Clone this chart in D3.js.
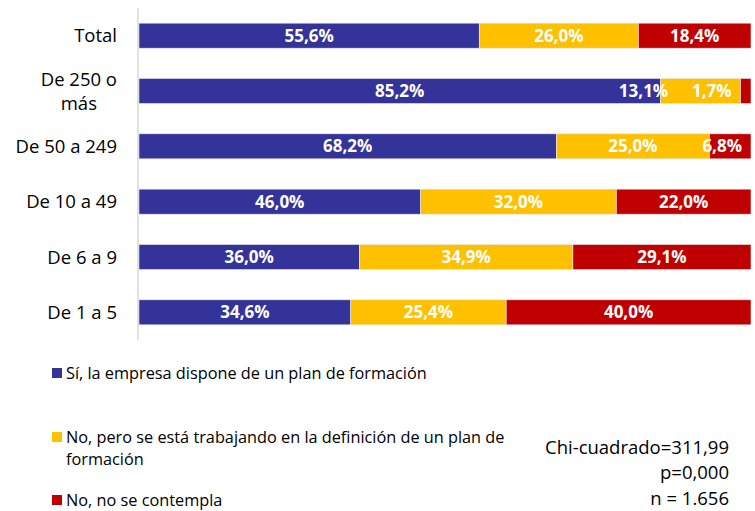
<!DOCTYPE html>
<html>
<head>
<meta charset="utf-8">
<script src="https://cdn.jsdelivr.net/npm/d3@7"></script>
<style>
  body { margin: 0; background: #fff; }
  svg text { font-family: "Open Sans", Lato, sans-serif; }
</style>
</head>
<body>
<svg width="755" height="511"></svg>
<script>
// categories top to bottom
var categories = ["Total", "De 250 o más", "De 50 a 249", "De 10 a 49", "De 6 a 9", "De 1 a 5"];
var seriesNames = [
  "Sí, la empresa dispone de un plan de formación",
  "No, pero se está trabajando en la definición de un plan de formación",
  "No, no se contempla"
];
var siValues = [55.6, 85.2, 68.2, 46.0, 36.0, 34.6];
var trabajandoValues = [26.0, 13.1, 25.0, 32.0, 34.9, 25.4];
var noValues = [18.4, 1.7, 6.8, 22.0, 29.1, 40.0];
var statsLines = ["Chi-cuadrado=311,99", "p=0,000", "n = 1.656"];

var colors = ["#333399", "#FFC000", "#C00000"];

// some labels were nudged by hand in the original
var labelShift = { "De 250 o más": [0, -57, -34], "De 50 a 249": [0, 0, -8] };

var svg = d3.select("svg");

var x = d3.scaleLinear().domain([0, 100]).range([139, 751]);
var y = d3.scaleBand().domain(categories).range([8, 340])
    .paddingInner(0.548).paddingOuter(0.274);

var rows = categories.map(function(c, i) {
    var vals = [siValues[i], trabajandoValues[i], noValues[i]];
    var start = 0;
    return vals.map(function(v, k) {
        var seg = { cat: c, k: k, v: v, x0: start, x1: start + v };
        start += v;
        return seg;
    });
});

var gBars = svg.append("g");
rows.forEach(function(segs) {
    gBars.selectAll(null)
        .data(segs)
        .enter().append("rect")
        .attr("x", function(d) { return x(d.x0); })
        .attr("y", function(d) { return y(d.cat); })
        .attr("width", function(d) { return x(d.x1) - x(d.x0); })
        .attr("height", y.bandwidth())
        .attr("fill", function(d) { return colors[d.k]; })
        .attr("stroke", "#e8e8ee")
        .attr("stroke-width", 0.6);
});

// axis line
svg.append("line")
    .attr("x1", 138).attr("x2", 138)
    .attr("y1", 8).attr("y2", 340)
    .attr("stroke", "#d9d9d9")
    .attr("stroke-width", 1.5);

var gLabels = svg.append("g");
rows.forEach(function(segs) {
    gLabels.selectAll(null)
        .data(segs)
        .enter().append("text")
        .attr("x", function(d) {
            var s = labelShift[d.cat] ? labelShift[d.cat][d.k] : 0;
            return (x(d.x0) + x(d.x1)) / 2 + s;
        })
        .attr("y", function(d) { return y(d.cat) + y.bandwidth() / 2; })
        .attr("dy", "0.36em")
        .attr("text-anchor", "middle")
        .attr("fill", "#fff")
        .attr("font-weight", "bold")
        .attr("font-size", 17)
        .text(function(d) { return d.v.toFixed(1).replace(".", ",") + "%"; });
});

// category labels
var gCats = svg.append("g");
categories.forEach(function(c) {
    var cy = y(c) + y.bandwidth() / 2;
    if (c === "De 250 o más") {
        // two lines, centred on each other
        var l1 = gCats.append("text")
            .attr("font-size", 18.5).attr("fill", "#000")
            .attr("text-anchor", "middle")
            .attr("y", cy - 12).attr("dy", "0.36em")
            .text("De 250 o");
        var w = l1.node().getComputedTextLength();
        l1.attr("x", 117 - w / 2);
        gCats.append("text")
            .attr("font-size", 18.5).attr("fill", "#000")
            .attr("text-anchor", "middle")
            .attr("x", 117 - w / 2)
            .attr("y", cy + 12).attr("dy", "0.36em")
            .text("más");
    } else {
        gCats.append("text")
            .attr("x", 117).attr("y", cy).attr("dy", "0.36em")
            .attr("text-anchor", "end")
            .attr("font-size", 18.5).attr("fill", "#000")
            .text(c);
    }
});

// legend
var legendRows = [
    { k: 0, y: 373, lines: [seriesNames[0]] },
    { k: 1, y: 437, lines: ["No, pero se está trabajando en la definición de un plan de", "formación"] },
    { k: 2, y: 500, lines: [seriesNames[2]] }
];
var gLegend = svg.append("g");
legendRows.forEach(function(r) {
    gLegend.append("rect")
        .attr("x", 52).attr("y", r.y - 5)
        .attr("width", 10).attr("height", 10)
        .attr("fill", colors[r.k]);
    r.lines.forEach(function(line, j) {
        gLegend.append("text")
            .attr("x", 66).attr("y", r.y + j * 22).attr("dy", "0.36em")
            .attr("font-size", 16.3).attr("fill", "#000")
            .text(line);
    });
});

// stats
svg.append("g").selectAll("text")
    .data(statsLines)
    .enter().append("text")
    .attr("x", 729)
    .attr("y", function(d, i) { return 447 + i * 25.5; })
    .attr("dy", "0.36em")
    .attr("text-anchor", "end")
    .attr("font-size", 18.5)
    .attr("fill", "#000")
    .text(function(d) { return d; });
</script>
</body>
</html>
